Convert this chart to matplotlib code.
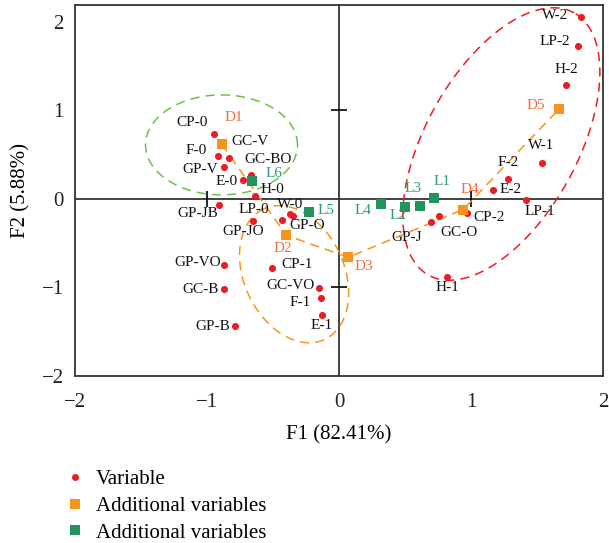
import numpy as np
import matplotlib.pyplot as plt
from matplotlib.lines import Line2D

plt.rcParams['font.family'] = ['Liberation Serif', 'DejaVu Serif']
plt.rcParams['axes.unicode_minus'] = True

# active variables (red dots)
var_names = ['W-2', 'LP-2', 'H-2', 'W-1', 'F-2', 'E-2', 'LP-1', 'CP-2', 'GC-O', 'GP-J', 'H-1',
             'CP-0', 'F-0', 'GC-V', 'GP-V', 'GC-BO', 'E-0', 'H-0', 'GP-JB', 'GP-JO',
             'LP-0', 'W-0', 'GP-O', 'GP-VO', 'GC-B', 'GP-B', 'CP-1', 'GC-VO', 'F-1', 'E-1']
var_f1 = [1.83, 1.81, 1.72, 1.54, 1.28, 1.17, 1.42, 0.97, 0.76, 0.70, 0.82,
          -0.95, -0.92, -0.83, -0.87, -0.67, -0.73, -0.64, -0.91, -0.65,
          -0.43, -0.37, -0.35, -0.87, -0.87, -0.79, -0.51, -0.15, -0.14, -0.13]
var_f2 = [2.05, 1.73, 1.29, 0.40, 0.23, 0.10, -0.01, -0.16, -0.19, -0.26, -0.88,
          0.73, 0.48, 0.46, 0.36, 0.27, 0.21, 0.03, -0.07, -0.25,
          -0.24, -0.17, -0.19, -0.75, -1.02, -1.44, -0.78, -1.01, -1.12, -1.31]

# supplementary variables
d_names = ['D1', 'D2', 'D3', 'D4', 'D5']
d_f1 = [-0.89, -0.40, 0.07, 0.94, 1.67]
d_f2 = [0.62, -0.41, -0.66, -0.12, 1.02]

l_names = ['L1', 'L2', 'L3', 'L4', 'L5', 'L6']
l_f1 = [0.72, 0.50, 0.61, 0.32, -0.23, -0.66]
l_f2 = [0.01, -0.09, -0.08, -0.06, -0.15, 0.20]

# label offsets in pixels (dx, dy up)
offs = {
    'W-2': (-25, 2), 'LP-2': (-23, 4), 'H-2': (0, 15), 'W-1': (-1, 18), 'F-2': (0, 16),
    'E-2': (17, 1), 'LP-1': (13, -12), 'CP-2': (22, -4), 'GC-O': (20, -17), 'GP-J': (-25, -16),
    'H-1': (0, -11), 'CP-0': (-22, 12), 'F-0': (-21, 6), 'GC-V': (21, 17), 'GP-V': (-24, -2),
    'GC-BO': (18, 16), 'E-0': (-16, -1), 'H-0': (18, 7), 'GP-JB': (-21, -8), 'GP-JO': (-10, -10),
    'LP-0': (-28, 11), 'W-0': (0, 9), 'GP-O': (14, -10), 'GP-VO': (-26, 3), 'GC-B': (-24, 0),
    'GP-B': (-22, 0), 'CP-1': (25, 3), 'GC-VO': (-29, 3), 'F-1': (-20, -4), 'E-1': (0, -11),
    'D1': (12, 27), 'D2': (-3, -13), 'D3': (16, -9), 'D4': (7, 20), 'D5': (-24, 3),
    'L1': (8, 17), 'L2': (-7, -9), 'L3': (-6, 17), 'L4': (-18, -6), 'L5': (17, 2), 'L6': (22, 8),
}

RED = '#ec1c24'
ORANGE = '#f7941d'
GREEN = '#23935e'
D_TXT = '#f26d3d'
L_TXT = '#2e9c6c'
AXC = '#333333'

fig = plt.figure(figsize=(6.09, 5.43), dpi=100)
ax = fig.add_axes([75 / 609, 167 / 543, 528 / 609, 371 / 543])
ax.set_xlim(-2, 2)
ax.set_ylim(-2, 2.19)
ax.set_xticks([-2, -1, 0, 1, 2])
ax.set_yticks([-2, -1, 0, 1, 2])
ax.tick_params(length=0, labelsize=15, colors='#222222')
ax.tick_params(axis='x', pad=12)
ax.tick_params(axis='y', pad=8)
for sp in ax.spines.values():
    sp.set_color(AXC)
    sp.set_linewidth(1.3)
ax.set_xlabel('F1 (82.41%)', fontsize=15, labelpad=10)
ax.set_ylabel('F2 (5.88%)', fontsize=15, labelpad=8)

ax.axhline(0, color=AXC, lw=1.3, zorder=1)
ax.axvline(0, color=AXC, lw=1.3, zorder=1)
ax.plot([-1, 1], [0, 0], ls='none', marker='|', ms=11, mew=1.2, color='k', zorder=1)
ax.plot([0, 0], [-1, 1], ls='none', marker='_', ms=11, mew=1.2, color='k', zorder=1)


def ellipse(cx, cy, a, b, ang, color):
    # a, b in pixels, ang in degrees (screen space)
    t = np.linspace(0, 2 * np.pi, 300)
    c = ax.transData.transform((cx, cy))
    th = np.deg2rad(ang)
    px = c[0] + a * np.cos(t) * np.cos(th) - b * np.sin(t) * np.sin(th)
    py = c[1] + a * np.cos(t) * np.sin(th) + b * np.sin(t) * np.cos(th)
    pts = ax.transData.inverted().transform(np.column_stack([px, py]))
    ax.plot(pts[:, 0], pts[:, 1], ls=(0, (6, 4)), color=color, lw=1.1, zorder=2)


ellipse(-0.89, 0.61, 76, 50, 0, '#6cc04a')
ellipse(-0.34, -0.85, 72, 50, 115, ORANGE)
ellipse(1.23, 0.62, 150, 76, 61, RED)

ax.plot(d_f1, d_f2, ls=(0, (6, 4)), color=ORANGE, lw=1.1, zorder=2)

ax.scatter(var_f1, var_f2, s=26, color=RED, zorder=4, linewidths=0)
ax.scatter(d_f1, d_f2, s=55, marker='s', color=ORANGE, zorder=4, linewidths=0)
ax.scatter(l_f1, l_f2, s=55, marker='s', color=GREEN, zorder=4, linewidths=0)

for names, xs, ys, col in [(var_names, var_f1, var_f2, '#111111'),
                           (d_names, d_f1, d_f2, D_TXT),
                           (l_names, l_f1, l_f2, L_TXT)]:
    for n, x, y in zip(names, xs, ys):
        ax.annotate(n, (x, y), xytext=offs[n], textcoords='offset pixels',
                    ha='center', va='center', fontsize=11, color=col, zorder=5)

handles = [
    Line2D([], [], ls='none', marker='o', ms=5, color=RED, mew=0),
    Line2D([], [], ls='none', marker='s', ms=7, color=ORANGE, mew=0),
    Line2D([], [], ls='none', marker='s', ms=7, color=GREEN, mew=0),
]
fig.legend(handles, ['Variable', 'Additional variables', 'Additional variables'],
           loc='upper left', bbox_to_anchor=(56 / 609, 1 - 461 / 543), frameon=False,
           fontsize=15, handlelength=1.0, handletextpad=0.5, labelspacing=0.35,
           borderaxespad=0)

fig.savefig('out.png', dpi=100)
